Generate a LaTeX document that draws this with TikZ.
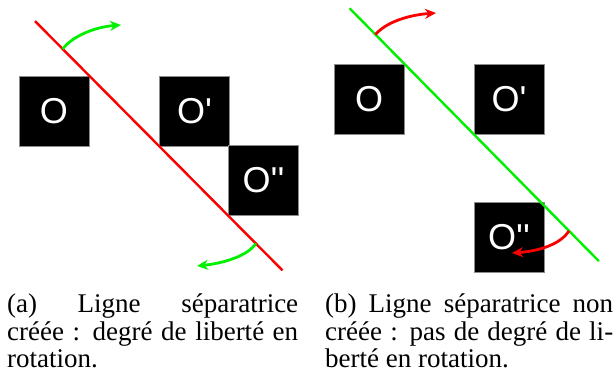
\documentclass[tikz,border=0pt]{standalone}
\usepackage{fontspec}
\setmainfont{Liberation Serif}
\newfontfamily\boxfont{Liberation Sans}
\usetikzlibrary{arrows.meta,calc}
\definecolor{vert}{RGB}{0,240,0}
\definecolor{rouge}{RGB}{250,0,0}
% straight apostrophe, taken straight from the font
\newcommand\quotetick{\XeTeXglyph\XeTeXglyphindex "quotesingle"\relax}

\begin{document}
\begin{tikzpicture}[x=1pt,y=-1pt,
  blackbox/.style={fill=black, draw=black!45, line width=0.5pt,
    minimum width=70pt, minimum height=70pt, inner sep=0pt,
    text=white, font=\boxfont\fontsize{36}{36}\selectfont},
  splitline/.style={line width=2.4pt},
  turn/.style={line width=2.8pt, -{Stealth[length=11pt,width=10pt,inset=3.5pt]}},
  caption/.style={anchor=north west, inner sep=0pt, align=justify,
    font=\fontsize{27}{27.5}\selectfont}]
\useasboundingbox (0,0) rectangle (615,374);

% (a) separating line created
\node[blackbox] (a1) at (54,111) {O};
\node[blackbox] (a2) at (194.5,111) {O\quotetick};
\node[blackbox] (a3) at (263.5,180.5) {O\quotetick\quotetick};
\coordinate (aS) at ($(a1.north east)!-0.775!(a2.south west)$);
\coordinate (aE) at ($(a1.north east)!2.76!(a2.south west)$);
\draw[splitline, rouge] (aS) -- (aE);
\coordinate (aT1) at ($(a1.north east)!-0.38!(a2.south west)$);
\coordinate (aT2) at ($(a1.north east)!2.38!(a2.south west)$);
\coordinate (aH1) at (121,25);
\coordinate (aH2) at (197,266);
\draw[turn, vert] (aT1) .. controls +(10,-13) and +(-26,2) .. (aH1);
\draw[turn, vert] (aT2) .. controls +(-8,12) and +(28,-3) .. (aH2);

% (b) separating line not created
\node[blackbox] (b1) at (369,99) {O};
\node[blackbox] (b2) at (509,99) {O\quotetick};
\node[blackbox] (b3) at (509,237.5) {O\quotetick\quotetick};
\coordinate (bS) at ($(b1.north east)!-0.786!(b2.south west)$);
\coordinate (bE) at ($(b1.north east)!2.8!(b2.south west)$);
\draw[splitline, vert] (bS) -- (bE);
\coordinate (bT1) at ($(b1.north east)!-0.414!(b2.south west)$);
\coordinate (bT2) at ($(b1.north east)!2.37!(b2.south west)$);
\coordinate (bH1) at (436,13);
\coordinate (bH2) at (512,253);
\draw[turn, rouge] (bT1) .. controls +(10,-12) and +(-28,2) .. (bH1);
\draw[turn, rouge] (bT2) .. controls +(-8,13) and +(28,-2) .. (bH2);

% captions
\node[caption, text width=291pt] (capA) at (7,294)
  {(a) Ligne séparatrice\linebreak créée : degré de liberté en\linebreak rotation.};
\node[caption, text width=288pt] (capB) at (325,294)
  {(b) Ligne séparatrice non\linebreak créée : pas de degré de li-\linebreak berté en rotation.};
\end{tikzpicture}
\end{document}
